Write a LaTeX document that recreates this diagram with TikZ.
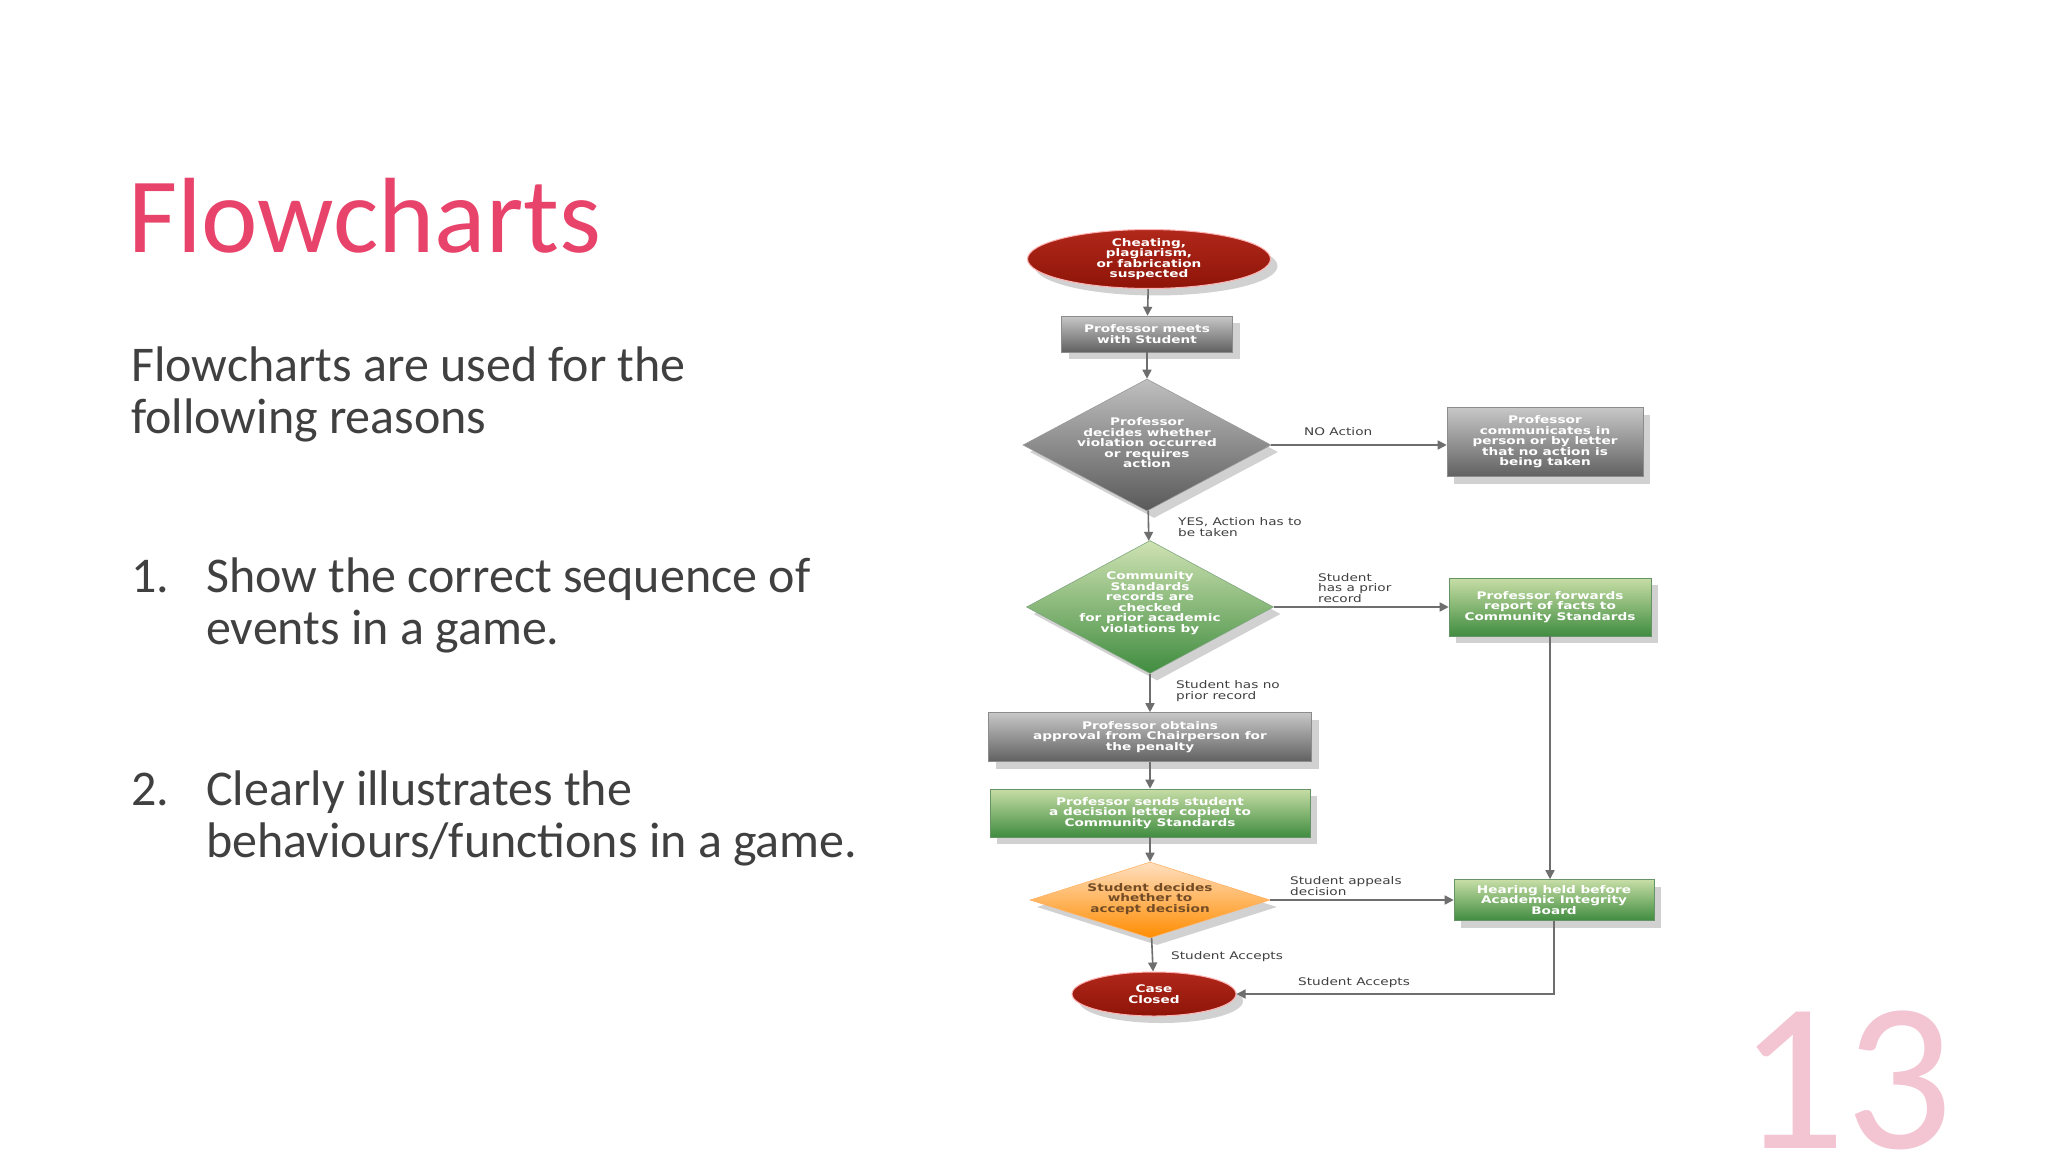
\documentclass[tikz,border=0pt]{standalone}
\usepackage{fontspec}
\setmainfont{Carlito}
\newfontfamily\fcfont[FakeStretch=1.3]{DejaVu Sans}
\usetikzlibrary{shapes.geometric,arrows.meta,shadows}
\definecolor{titlecol}{HTML}{E8436A}
\definecolor{bodycol}{HTML}{404040}
\definecolor{pagenum}{HTML}{F3C4D2}
\definecolor{arr}{HTML}{6E6E6E}
\definecolor{redtop}{HTML}{B0281A}
\definecolor{redbot}{HTML}{8E1408}
\tikzset{
 shad/.style={drop shadow={shadow xshift=7pt,shadow yshift=-7pt,fill=black!18,opacity=1}},
 ftxt/.style={font=\fcfont\bfseries\fontsize{10.5}{10.5}\selectfont},
 graybox/.style={rectangle,shad,top color=black!22,bottom color=black!62,draw=black!45,line width=0.6pt,text=white,ftxt,align=center,inner sep=0pt},
 greenbox/.style={graybox,top color=green!25!olive!35!white,bottom color=green!40!black!75,draw=green!30!black!60},
 redell/.style={ellipse,shad,top color=redtop,bottom color=redbot,draw=red!30!white,line width=1pt,inner sep=0pt,text=white,ftxt,align=center},
 dia/.style={diamond,shad,inner sep=0pt,line width=0.6pt},
 dtext/.style={text=white,ftxt,align=center},
 lbl/.style={text=bodycol,font=\fcfont\fontsize{10.5}{10.5}\selectfont,align=left,anchor=west,inner sep=0pt},
 conn/.style={draw=arr,line width=1.6pt,-{Triangle[length=9pt,width=9pt]}},
 body/.style={text=bodycol,font=\fontsize{50}{52}\selectfont,anchor=base west,inner sep=0pt}
}
\begin{document}
\begin{tikzpicture}[x=1pt,y=-1pt]
\useasboundingbox (0,0) rectangle (2048,1152);
\fill[white] (0,0) rectangle (2048,1152);
% left text
\node[text=titlecol,font=\fontsize{107}{110}\selectfont,anchor=base west,inner sep=0pt] (title) at (128,252) {Flowcharts};
\node[body] (b1) at (131,381) {Flowcharts are used for the};
\node[body] (b2) at (131,433) {following reasons};
\node[body] (n1) at (131,592) {1.};
\node[body] (t1a) at (206,592) {Show the correct sequence of};
\node[body] (t1b) at (206,644) {events in a game.};
\node[body] (n2) at (131,805) {2.};
\node[body] (t2a) at (206,805) {Clearly illustrates the};
\node[body] (t2b) at (206,857) {behaviours/functions in a game.};
\node[text=pagenum,font=\fontsize{212}{220}\selectfont,anchor=base west,inner sep=0pt] (pg) at (1738,1148) {13};
% flowchart
\node[redell,minimum width=243pt,minimum height=58pt] (start) at (1149,259) {Cheating,\\plagiarism,\\or fabrication\\suspected};
\node[graybox,minimum width=171pt,minimum height=36pt] (meet) at (1147,334) {Professor meets\\with Student};
\node[dia,minimum width=248pt,minimum height=132pt,top color=black!25,bottom color=black!65,draw=black!40] (d1) at (1147,445) {};
\node[dtext] (d1t) at (1147,443) {Professor\\decides whether\\violation occurred\\or requires\\action};
\node[graybox,minimum width=196pt,minimum height=69pt] (noact) at (1545,442) {Professor\\communicates in\\person or by letter\\that no action is\\being taken};
\node[dia,minimum width=247pt,minimum height=133pt,top color=green!25!olive!30!white,bottom color=green!40!black!75,draw=green!30!black!50] (d2) at (1150,607) {};
\node[dtext] (d2t) at (1150,603) {Community\\Standards\\records are\\checked\\for prior academic\\violations by};
\node[greenbox,minimum width=202pt,minimum height=58pt] (fwd) at (1550,607) {Professor forwards\\report of facts to\\Community Standards};
\node[graybox,minimum width=323pt,minimum height=49pt] (appr) at (1150,737) {Professor obtains\\approval from Chairperson for\\the penalty};
\node[greenbox,minimum width=320pt,minimum height=48pt] (send) at (1150,813) {Professor sends student\\a decision letter copied to\\Community Standards};
\node[dia,minimum width=240pt,minimum height=76pt,top color=orange!25!white,bottom color=orange!90!yellow,draw=orange!60] (d3) at (1150,900) {};
\node[dtext,text=brown!60!black] (d3t) at (1150,899) {Student decides\\whether to\\accept decision};
\node[greenbox,minimum width=200pt,minimum height=41pt] (hear) at (1554,900) {Hearing held before\\Academic Integrity\\Board};
\node[redell,minimum width=164pt,minimum height=44pt] (closed) at (1154,994) {Case\\Closed};
% labels
\node[lbl] (lno) at (1304,432) {NO Action};
\node[lbl] (lyes) at (1178,527) {YES, Action has to\\be taken};
\node[lbl] (lprior) at (1318,588) {Student\\has a prior\\record};
\node[lbl] (lnoprior) at (1176,691) {Student has no\\prior record};
\node[lbl] (lapp) at (1290,886) {Student appeals\\decision};
\node[lbl] (lacc1) at (1171,957) {Student Accepts};
\node[lbl] (lacc2) at (1298,983) {Student Accepts};
% connectors
\draw[conn] (start) -- (meet);
\draw[conn] (meet) -- (d1);
\draw[conn] (d1.east) -- (noact.west |- d1.east);
\draw[conn] (d1) -- (d2);
\draw[conn] (d2.east) -- (fwd.west |- d2.east);
\draw[conn] (d2.south) -- (appr.north);
\draw[conn] (appr) -- (send);
\draw[conn] (send) -- (d3);
\draw[conn] (d3.east) -- (hear.west |- d3.east);
\draw[conn] (fwd.south) -- (hear.north -| fwd.south);
\draw[conn] (d3) -- (closed);
\draw[conn] (hear.south) |- (closed.east);
\end{tikzpicture}
\end{document}
